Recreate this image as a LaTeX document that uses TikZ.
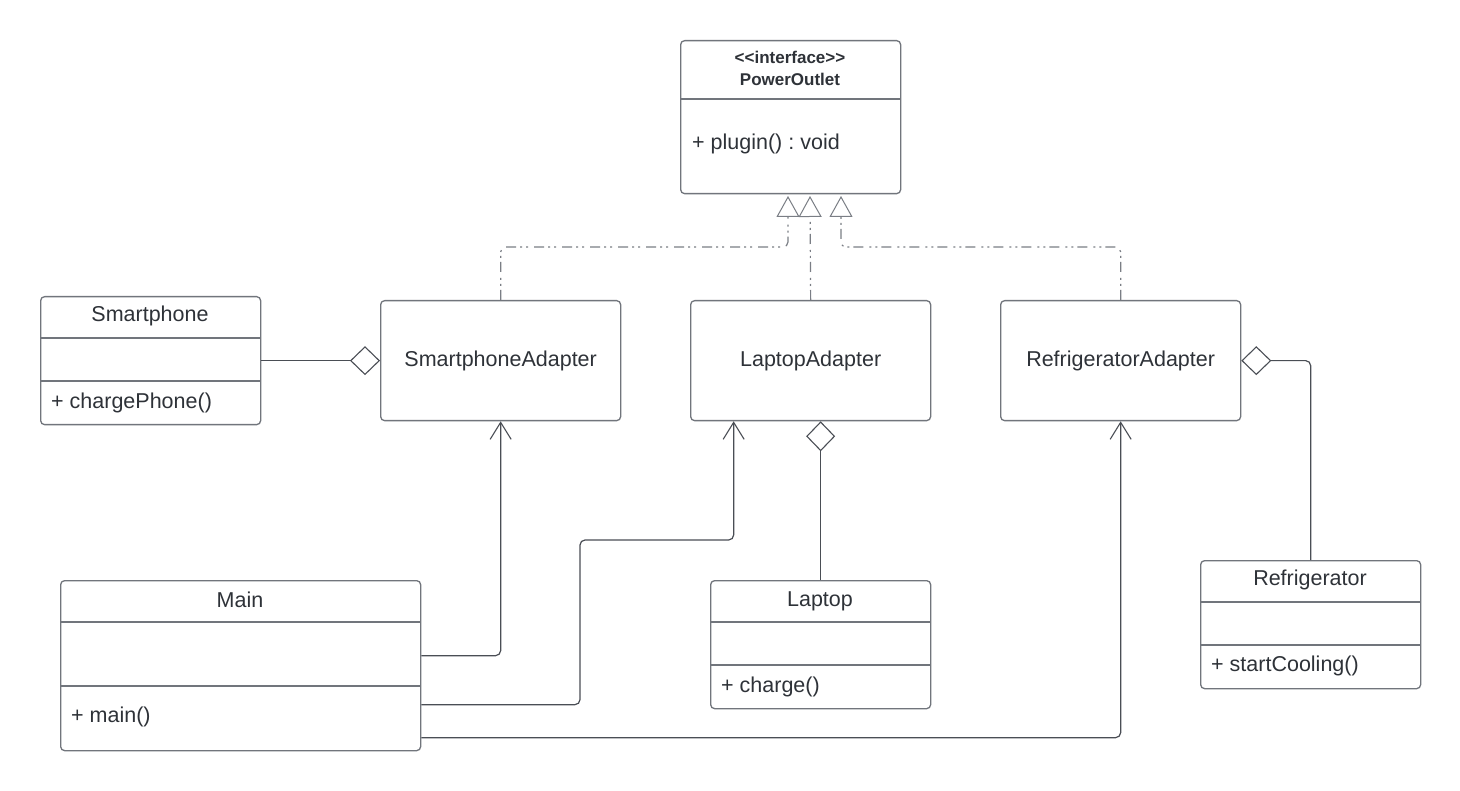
\documentclass[tikz,border=0pt]{standalone}
\usepackage{fontspec}
\setmainfont{Liberation Sans}
\usetikzlibrary{arrows.meta,calc}
\definecolor{boxc}{HTML}{71757C}
\definecolor{txt}{HTML}{2E3238}
\definecolor{linec}{HTML}{4A4E55}
\definecolor{realc}{HTML}{7A7E85}
\frenchspacing
\begin{document}
\begin{tikzpicture}[x=1pt,y=-1pt,
  box/.style={draw=boxc, line width=1.3pt, rounded corners=4pt, inner sep=0pt, anchor=north west, text=txt, font=\fontsize{21.5}{26}\selectfont},
  divider/.style={draw=boxc, line width=1.3pt},
  title/.style={text=txt, font=\fontsize{21.5}{26}\selectfont, inner sep=0pt},
  member/.style={text=txt, font=\fontsize{21.5}{26}\selectfont, inner sep=0pt, anchor=west},
  real/.style={draw=realc, line width=1.2pt, rounded corners=5pt, dash pattern=on 10pt off 4pt on 2pt off 4pt on 2pt off 6pt,
    -{Triangle[open, length=21pt, width=23pt, line width=1pt]}},
  agg/.style={draw=linec, line width=1.2pt, rounded corners=5pt, -{Diamond[open, length=30pt, width=29pt, line width=1.1pt]}},
  dep/.style={draw=linec, line width=1.2pt, rounded corners=5pt, -{Straight Barb[length=17pt, width=21pt, line width=1.1pt]}}
]
\useasboundingbox (0,0) rectangle (1460,791);
\fill[white] (0,0) rectangle (1460,791);

% Interface
\node[box, minimum width=220pt, minimum height=153pt] (po) at (680,40) {};
\draw[divider] (680,99) -- (900,99);
\node[text=txt, font=\bfseries\fontsize{17}{22}\selectfont, align=center, inner sep=0pt] (pot) at (790,68) {\textless\kern0pt\textless\kern0pt interface\kern0pt\textgreater\kern0pt\textgreater\\PowerOutlet};
\node[member] (pom) at (692,144) {+ plugin() : void};
\coordinate (t1) at (788,196);
\coordinate (t2) at (810,196);
\coordinate (t3) at (841,196);

% Adapters
\node[box, minimum width=240pt, minimum height=120pt] (spa) at (380,300) {SmartphoneAdapter};
\node[box, minimum width=240pt, minimum height=120pt] (la) at (690,300) {LaptopAdapter};
\node[box, minimum width=240pt, minimum height=120pt] (ra) at (1000,300) {RefrigeratorAdapter};

% Smartphone
\node[box, minimum width=220pt, minimum height=128pt] (sp) at (40,296) {};
\draw[divider] (40,338) -- (260,338);
\draw[divider] (40,381) -- (260,381);
\node[title] (spt) at (150,316) {Smartphone};
\node[member] (spm) at (51,403) {+ chargePhone()};

% Main
\node[box, minimum width=360pt, minimum height=170pt] (main) at (60,580) {};
\draw[divider] (60,622) -- (420,622);
\draw[divider] (60,686) -- (420,686);
\node[title] (mt) at (240,600) {Main};
\node[member] (mm) at (71,717) {+ main()};

% Laptop
\node[box, minimum width=220pt, minimum height=128pt] (lp) at (710,580) {};
\draw[divider] (710,622) -- (930,622);
\draw[divider] (710,665) -- (930,665);
\node[title] (lpt) at (820,601) {Laptop};
\node[member] (lpm) at (721,687) {+ charge()};

% Refrigerator
\node[box, minimum width=220pt, minimum height=128pt] (rf) at (1200,560) {};
\draw[divider] (1200,602) -- (1420,602);
\draw[divider] (1200,645) -- (1420,645);
\node[title] (rft) at (1310,580) {Refrigerator};
\node[member] (rfm) at (1211,666) {+ startCooling()};

% Realizations
\draw[real] (spa.north) |- (t1 |- 0,247) -- (t1);
\draw[real] (la.north) -- (t2);
\draw[real] (ra.north) |- (t3 |- 0,247) -- (t3);

% Aggregations
\draw[agg] (sp.east) -- (spa.west);
\draw[agg] (lp.north) -- (lp.north |- la.south);
\draw[agg] (rf.north) |- (ra.east);

% Dependencies from Main
\draw[dep] ([yshift=10pt]main.east) -| (spa.south);
\draw[dep] ([yshift=-39pt]main.east) -| (580,540) -| ([xshift=-77pt]la.south);
\draw[dep] ([yshift=-72pt]main.east) -| (ra.south);
\end{tikzpicture}
\end{document}
